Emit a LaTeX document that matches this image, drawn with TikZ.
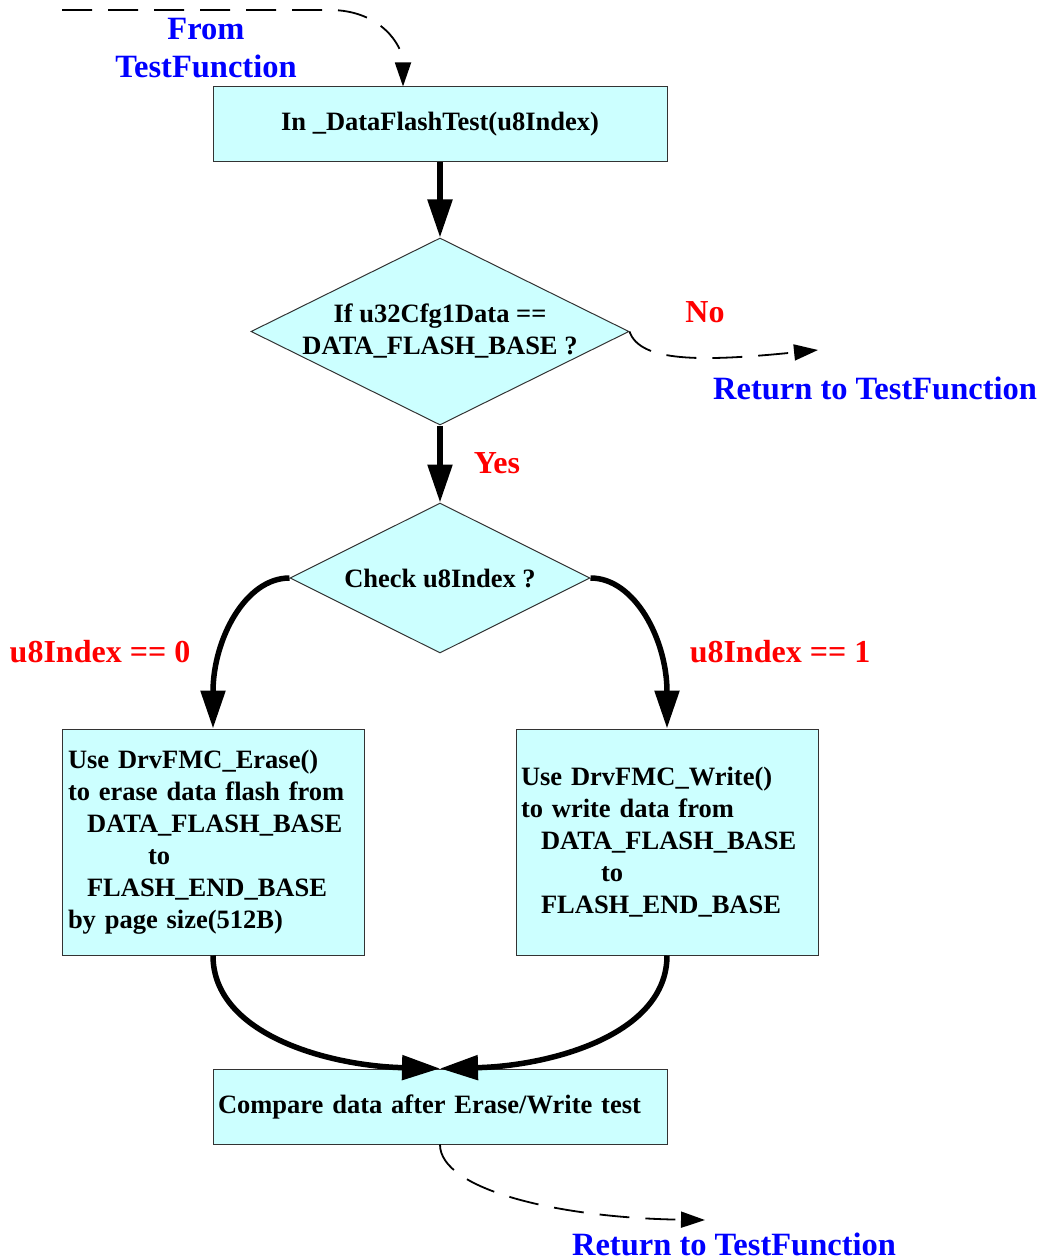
\documentclass[tikz,border=0pt]{standalone}
\usepackage{fontspec}
\setmainfont{Liberation Serif}
\usetikzlibrary{arrows.meta,shapes.geometric}
\definecolor{boxfill}{HTML}{CCFFFF}
\definecolor{edgegray}{HTML}{333333}
\begin{document}
\begin{tikzpicture}[x=1pt,y=-1pt,
  box/.style={draw=edgegray,line width=1pt,fill=boxfill,rectangle,inner sep=0pt,font=\bfseries\fontsize{26.5pt}{32pt}\selectfont},
  dia/.style={draw=edgegray,line width=1pt,fill=boxfill,diamond,inner sep=0pt},
  body/.style={font=\bfseries\fontsize{26.5pt}{32pt}\selectfont,align=center,inner sep=0pt},
  lblred/.style={text=red,font=\bfseries\fontsize{32pt}{36pt}\selectfont,inner sep=0pt},
  lblblue/.style={text=blue,font=\bfseries\fontsize{32.5pt}{38pt}\selectfont,inner sep=0pt,align=center},
  flow/.style={line width=5.5pt,-{Triangle[length=38pt,width=24pt]}},
  ret/.style={line width=1.8pt,dash pattern=on 30pt off 16pt,-{Triangle[length=24pt,width=16pt]}}
]
\useasboundingbox (0,0) rectangle (1039,1260);

% nodes
\node[box,minimum width=454pt,minimum height=75pt] (b1) at (440,124.5) {In \_DataFlashTest(u8Index)};
\node[dia,minimum width=378pt,minimum height=187pt] (d1) at (440,331.5) {};
\node[body] (t1) at (d1.center) {If u32Cfg1Data ==\\DATA\_FLASH\_BASE ?};
\node[dia,minimum width=300pt,minimum height=150pt] (d2) at (440,578) {};
\node[body] (t2) at (d2.center) {Check u8Index ?};
\node[box,minimum width=302pt,minimum height=226pt,text width=290pt,align=left] (b2) at (213,842) {Use DrvFMC\_Erase()\\
to erase data flash from\\
\hspace*{19pt}DATA\_FLASH\_BASE\\
\hspace*{80pt}to\\
\hspace*{19pt}FLASH\_END\_BASE\\
by page size(512B)};
\node[box,minimum width=302pt,minimum height=226pt,text width=292pt,align=left] (b3) at (667,842) {Use DrvFMC\_Write()\\
to write data from\\
\hspace*{20pt}DATA\_FLASH\_BASE\\
\hspace*{80pt}to\\
\hspace*{20pt}FLASH\_END\_BASE};
\node[box,minimum width=454pt,minimum height=75pt,text width=444pt,align=left] (b4) at (440,1106.5) {Compare data after Erase/Write test};

% labels
\node[lblblue] (from) at (206,48) {From\\TestFunction};
\node[lblblue] (r1) at (875,388) {Return to TestFunction};
\node[lblblue] (r2) at (734,1244) {Return to TestFunction};
\node[lblred] (no) at (705,312) {No};
\node[lblred] (yes) at (497,463) {Yes};
\node[lblred] (i0) at (100,652) {u8Index == 0};
\node[lblred] (i1) at (780,652) {u8Index == 1};

% connectors
\draw[flow] (b1.south) -- (d1.north);
\draw[flow] (d1.south) -- (d2.north);
\draw[flow] (d2.west) .. controls (245,578) and (213,640) .. (b2.north);
\draw[flow] (d2.east) .. controls (635,578) and (667,640) .. (b3.north);
\draw[flow] (b2.south) .. controls (213,1035) and (330,1066) .. (b4.north);
\draw[flow] (b3.south) .. controls (667,1035) and (550,1066) .. (b4.north);

\coordinate (src) at (62,10);
\coordinate (ret1) at (818,350);
\coordinate (ret2) at (705,1220);
\draw[ret] (src) -- (330,10) .. controls (380,10) and (403,45) .. ([xshift=-37pt]b1.north);
\draw[ret] (d1.east) .. controls (640,362) and (700,362) .. (ret1);
\draw[ret] (b4.south) .. controls (440,1190) and (560,1218) .. (ret2);
\end{tikzpicture}
\end{document}
